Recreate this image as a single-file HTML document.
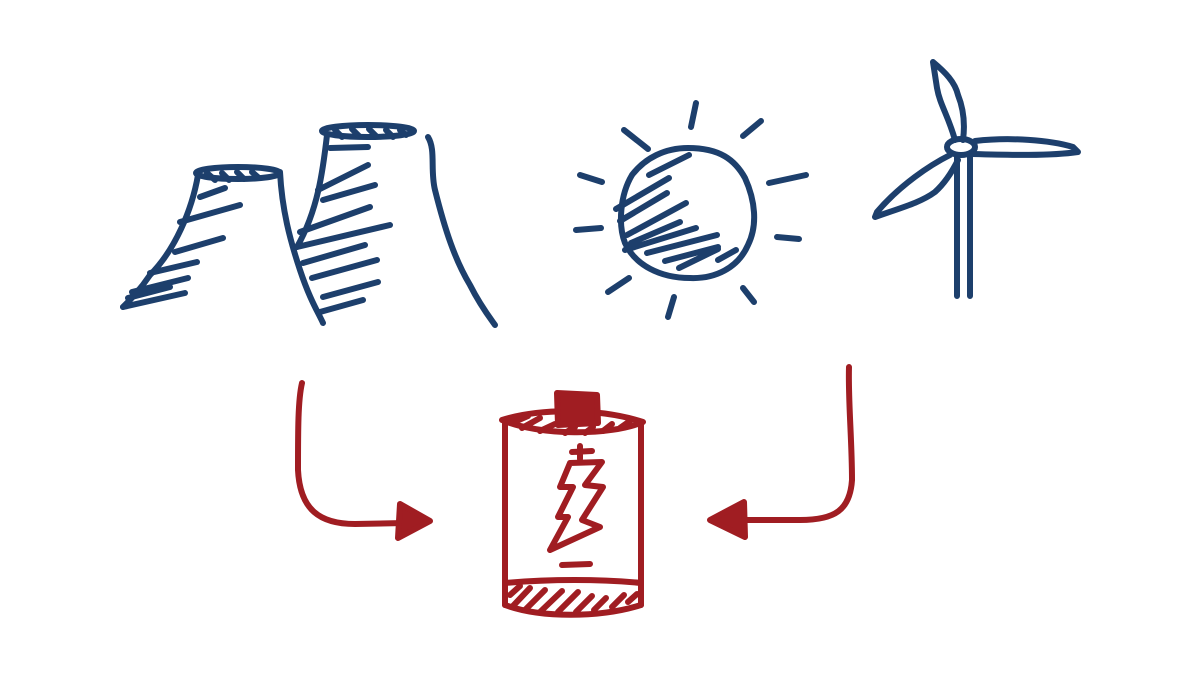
<!DOCTYPE html>
<html><head><meta charset="utf-8"><style>
html,body{margin:0;padding:0;background:#fff;}
svg{display:block}
</style></head><body>
<svg width="1200" height="680" viewBox="0 0 1200 680" xmlns="http://www.w3.org/2000/svg">
<g fill="none" stroke="#1d3f6c" stroke-width="6" stroke-linecap="round" stroke-linejoin="round">
<!-- tower 1 -->
<ellipse cx="238" cy="173" rx="42" ry="6"/>
<path d="M207 173 L215 180 M222 173 L229 180 M237 172 L244 179 M252 172 L259 178"/>
<path d="M198 175 C192 210 175 250 150 275 C140 290 130 300 123 307"/>
<path d="M280 172 C282 210 290 240 300 270 C310 300 318 312 323 323"/>
<path d="M200 197 L225 188 M180 222 L240 205 M175 252 L223 238 M150 273 L197 262 M132 292 L188 278 M123 307 L185 293 M128 298 L170 287"/>
<!-- tower 2 -->
<ellipse cx="368" cy="131" rx="46" ry="6"/>
<path d="M335 130 L342 137 M352 129 L359 136 M369 129 L376 136 M386 130 L393 137 M400 130 L406 135"/>
<path d="M327 135 C323 170 318 210 297 247"/>
<path d="M428 137 C436 150 430 170 435 190 C445 230 455 260 470 285 C480 305 490 318 495 325"/>
<path d="M330 148 L368 147 M318 190 L368 165 M323 200 L375 185 M300 232 L370 207 M297 247 L390 225 M303 263 L365 245 M312 278 L377 260 M323 297 L378 282 M320 312 L363 300"/>
<!-- sun -->
<path d="M688 148 C720 148 735 160 745 178 C755 200 758 225 748 245 C738 268 715 279 690 278 C660 278 635 265 625 243 C618 225 620 195 632 175 C645 158 665 148 688 148 Z"/>
<path d="M696 103 L691 127 M761 121 L743 136 M624 130 L648 149 M580 175 L602 182 M769 183 L806 175 M576 230 L601 228 M777 237 L799 239 M608 292 L629 278 M674 297 L668 317 M743 288 L754 302"/>
<path d="M649 175 L689 155 M616 209 L669 178 M620 221 L667 193 M627 235 L686 203 M631 243 L680 222 M625 250 L696 228 M647 253 L717 235 M665 261 L718 247 M679 268 L718 249 M718 260 L736 250"/>
<!-- turbine -->
<ellipse cx="961" cy="147" rx="14" ry="8"/>
<path d="M957 155 L957 296 M970 155 L970 296"/>
<path d="M955 140 C948 115 940 105 937 88 L933 62 C945 72 955 82 958 95 C964 110 965 125 963 140"/>
<path d="M975 141 C1010 137 1050 140 1073 147 L1078 152 C1050 156 1010 155 972 154"/>
<path d="M950 155 C930 165 900 185 877 212 L875 217 C900 208 920 203 935 192 C945 183 952 172 958 160"/>
</g>
<g fill="none" stroke="#a01d22" stroke-width="6" stroke-linecap="round" stroke-linejoin="round">
<!-- left arrow -->
<path d="M302 383 C298 400 298 430 298 470 C300 510 320 524 355 524 L405 523"/>
<path d="M400 504 L430 521 L398 538 Z" fill="#a01d22"/>
<!-- right arrow -->
<path d="M849 367 C848 400 852 440 852 480 C850 510 835 520 800 520 L740 520"/>
<path d="M744 502 L710 520 L745 537 Z" fill="#a01d22"/>
<!-- battery -->
<path d="M502 420 C540 408 600 408 643 422 C610 436 540 436 502 420 Z"/>
<path d="M505 422 L505 605 M641 422 L641 605"/>
<path d="M505 583 C550 579 600 579 641 583"/>
<path d="M505 605 C540 618 600 618 641 605"/>
<path d="M557 393 L597 395 L598 423 L558 425 Z" fill="#a01d22"/>
<path d="M512 423 L528 416 M522 428 L540 418 M540 431 L555 424 M565 433 L575 427 M585 433 L593 427 M603 431 L612 424 M620 428 L630 421"/>
<path d="M572 452 L592 451 M580 446 L580 459"/>
<path d="M562 565 L590 564"/>
<path d="M570 463 L602 462 L585 485 L603 487 L582 520 L600 527 L550 550 L568 517 L558 517 L573 487 L560 487 Z"/>
<path d="M510 595 L520 586 M512 607 L530 588 M525 610 L545 590 M540 612 L562 591 M558 612 L578 592 M576 612 L592 596 M594 610 L606 598 M612 607 L624 595 M628 602 L637 594"/>
</g>
</svg>
</body></html>
